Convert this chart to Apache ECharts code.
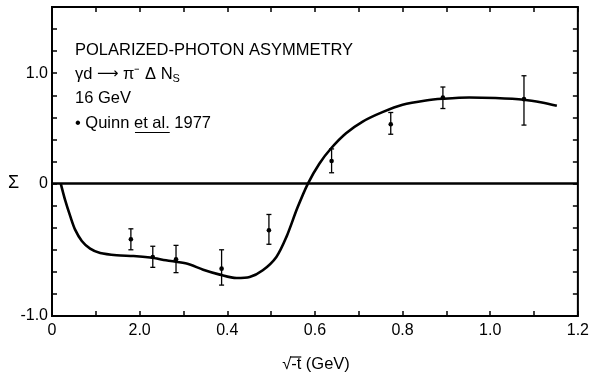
<!DOCTYPE html>
<html>
<head>
<meta charset="utf-8">
<script src="https://cdn.jsdelivr.net/npm/echarts@6/dist/echarts.min.js"></script>
<style>
  html, body { margin: 0; padding: 0; background: #fff; }
  #chart { width: 592px; height: 377px; }
</style>
</head>
<body>
<div id="chart"></div>
<script>
// theory curve
var curveX = [0.02, 0.03, 0.042, 0.053, 0.068, 0.087, 0.11, 0.148, 0.186, 0.224, 0.26, 0.307, 0.345, 0.383, 0.421, 0.451, 0.481, 0.512, 0.535, 0.56, 0.584, 0.61, 0.637, 0.671, 0.709, 0.754, 0.80, 0.853, 0.891, 0.952, 1.012, 1.077, 1.118, 1.152]
var curveY = [0, -0.15, -0.30, -0.42, -0.52, -0.59, -0.63, -0.65, -0.656, -0.67, -0.695, -0.725, -0.78, -0.825, -0.856, -0.847, -0.786, -0.665, -0.483, -0.22, 0, 0.18, 0.32, 0.456, 0.562, 0.647, 0.714, 0.753, 0.768, 0.78, 0.775, 0.76, 0.735, 0.705]

// Quinn et al. 1977 data points with error bar ends
var ptX = [0.18, 0.23, 0.283, 0.387, 0.495, 0.638, 0.773, 0.892, 1.077]
var ptY = [-0.505, -0.665, -0.686, -0.771, -0.423, 0.205, 0.538, 0.78, 0.765]
var ptHigh = [-0.41, -0.568, -0.56, -0.60, -0.28, 0.314, 0.644, 0.875, 0.977]
var ptLow = [-0.60, -0.759, -0.807, -0.92, -0.55, 0.098, 0.447, 0.68, 0.53]

// tick labels as printed on the figure
var xTickLabels = { '0': '0', '2': '2.0', '4': '0.4', '6': '0.6', '8': '0.8', '10': '1.0', '12': '1.2' }
var yTickLabels = { '10': '1.0', '0': '0', '-12': '-1.0' }

var FONT = 'Liberation Sans'
var FS = 16.5

var curveData = []
for (var i = 0; i < curveX.length; i++) {
  curveData.push([curveX[i], curveY[i]])
}
var pointData = []
for (var j = 0; j < ptX.length; j++) {
  pointData.push([ptX[j], ptLow[j], ptHigh[j], ptY[j]])
}

// measure text for the underline / vinculum
var ctx = document.createElement('canvas').getContext('2d')
ctx.font = FS + 'px "' + FONT + '"'
var qLeft = 75
var ulStart = qLeft + ctx.measureText('\u2022 Quinn ').width
var ulWidth = ctx.measureText('et al.').width
var xName = '\u221A-t (GeV)'
var xNameW = ctx.measureText(xName).width
var xNameLeft = 316 - xNameW / 2
var sqrtW = ctx.measureText('\u221A').width
var vinW = ctx.measureText('-t').width

var chart = echarts.init(document.getElementById('chart'))

var tickStyle = { show: true, inside: true, length: 5, lineStyle: { color: '#000', width: 1.5 } }

var option = {
  animation: false,
  backgroundColor: '#fff',
  grid: {
    left: 52, right: 13, top: 7, bottom: 61,
    show: true, borderColor: '#000', borderWidth: 2, backgroundColor: 'transparent'
  },
  xAxis: [
    {
      type: 'value', position: 'bottom', min: 0, max: 1.2, interval: 0.1,
      axisLine: { show: false, onZero: false },
      axisTick: tickStyle,
      splitLine: { show: false },
      axisLabel: {
        color: '#000', fontFamily: FONT, fontSize: 16, margin: 7,
        formatter: function (v) {
          var k = String(Math.round(v * 10))
          return xTickLabels[k] !== undefined ? xTickLabels[k] : ''
        }
      }
    },
    {
      type: 'value', position: 'top', min: 0, max: 1.2, interval: 0.1,
      axisLine: { show: false, onZero: false },
      axisTick: tickStyle,
      splitLine: { show: false },
      axisLabel: { show: false }
    }
  ],
  yAxis: [
    {
      type: 'value', position: 'left', min: -1.2, max: 1.6, interval: 0.2,
      axisLine: { show: false, onZero: false },
      axisTick: tickStyle,
      splitLine: { show: false },
      axisLabel: {
        color: '#000', fontFamily: FONT, fontSize: 16, margin: 4,
        formatter: function (v) {
          var k = String(Math.round(v * 10))
          return yTickLabels[k] !== undefined ? yTickLabels[k] : ''
        }
      }
    },
    {
      type: 'value', position: 'right', min: -1.2, max: 1.6, interval: 0.2,
      axisLine: { show: false, onZero: false },
      axisTick: tickStyle,
      splitLine: { show: false },
      axisLabel: { show: false }
    }
  ],
  graphic: [
    {
      type: 'text', left: qLeft, top: 42,
      style: { text: 'POLARIZED-PHOTON ASYMMETRY', fill: '#000', font: FS + 'px "' + FONT + '"' }
    },
    {
      type: 'text', left: qLeft, top: 66,
      style: {
        text: '{a|\u03B3d }{r|\u27F6}{a| \u03C0\u207B \u0394 N}{s|S}',
        rich: {
          a: { fill: '#000', fontFamily: FONT, fontSize: FS },
          r: { fill: '#000', fontFamily: 'DejaVu Sans', fontSize: 15 },
          s: { fill: '#000', fontFamily: FONT, fontSize: 11, padding: [9, 0, 0, 0] }
        }
      }
    },
    {
      type: 'text', left: qLeft, top: 90,
      style: { text: '16 GeV', fill: '#000', font: FS + 'px "' + FONT + '"' }
    },
    {
      type: 'text', left: qLeft, top: 115,
      style: { text: '\u2022 Quinn et al. 1977', fill: '#000', font: FS + 'px "' + FONT + '"' }
    },
    {
      type: 'line',
      shape: { x1: ulStart + 1, y1: 132.5, x2: ulStart + ulWidth, y2: 132.5 },
      style: { stroke: '#000', lineWidth: 1.1 }
    },
    {
      type: 'text', left: 8, top: 174,
      style: { text: '\u03A3', fill: '#000', font: '18px "' + FONT + '"' }
    },
    {
      type: 'text', left: xNameLeft, top: 356,
      style: { text: xName, fill: '#000', font: FS + 'px "' + FONT + '"' }
    },
    {
      type: 'line',
      shape: { x1: xNameLeft + sqrtW - 1, y1: 357, x2: xNameLeft + sqrtW + vinW, y2: 357 },
      style: { stroke: '#000', lineWidth: 1.2 }
    }
  ],
  series: [
    {
      type: 'line',
      data: curveData,
      smooth: 0.3,
      showSymbol: false,
      lineStyle: { color: '#000', width: 2.6 },
      markLine: {
        silent: true,
        symbol: 'none',
        label: { show: false },
        lineStyle: { color: '#000', width: 2.6, type: 'solid' },
        data: [{ yAxis: 0 }]
      },
      z: 3
    },
    {
      type: 'custom',
      data: pointData,
      renderItem: function (params, api) {
        var x = api.value(0)
        var lo = api.coord([x, api.value(1)])
        var hi = api.coord([x, api.value(2)])
        var c = api.coord([x, api.value(3)])
        var cap = 2.5
        var st = { stroke: '#000', lineWidth: 1.3 }
        return {
          type: 'group',
          children: [
            { type: 'line', shape: { x1: lo[0], y1: lo[1], x2: hi[0], y2: hi[1] }, style: st },
            { type: 'line', shape: { x1: lo[0] - cap, y1: lo[1], x2: lo[0] + cap, y2: lo[1] }, style: st },
            { type: 'line', shape: { x1: hi[0] - cap, y1: hi[1], x2: hi[0] + cap, y2: hi[1] }, style: st },
            { type: 'circle', shape: { cx: c[0], cy: c[1], r: 2.3 }, style: { fill: '#000' } }
          ]
        }
      },
      z: 4
    }
  ]
}

chart.setOption(option)
</script>
</body>
</html>
